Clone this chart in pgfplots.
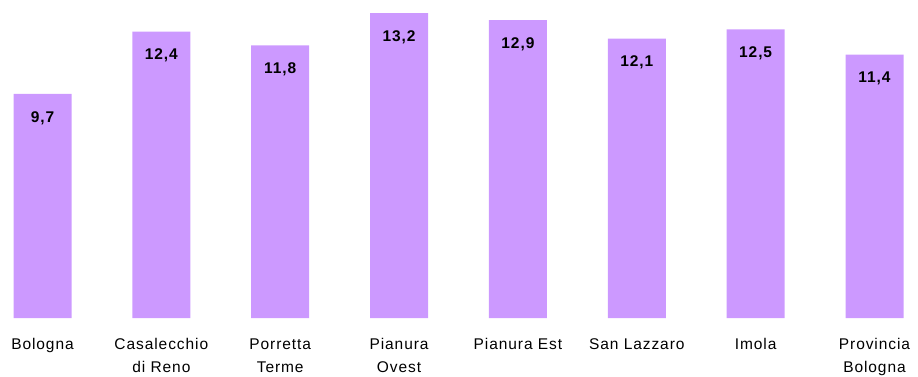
\documentclass[border=0pt]{standalone}
\usepackage{fontspec}
\setmainfont{Liberation Sans}[LetterSpace=6]
\usepackage{pgfplots}
\pgfplotsset{compat=1.18}
\definecolor{lilla}{HTML}{CC99FF}

\begin{document}
\begin{tikzpicture}
\begin{axis}[
    scale only axis,
    width=918pt, height=318pt,
    xmin=-0.3576, xmax=7.366,
    ymin=0, ymax=13.77,
    axis line style={draw=none},
    major tick length=0pt,
    ytick=\empty,
    xtick=data,
    xticklabels={Bologna, Casalecchio\\di Reno, Porretta\\Terme, Pianura\\Ovest, Pianura Est, San Lazzaro, Imola, Provincia\\Bologna},
    xticklabel style={font=\fontsize{15.5}{23}\selectfont, align=center, anchor=north, yshift=-17pt},
    ybar, bar width=58pt,
    nodes near coords,
    nodes near coords style={font=\fontsize{15.5}{17}\selectfont\bfseries, anchor=center, yshift=-24pt},
    /pgf/number format/.cd, use comma, fixed, precision=1, fixed zerofill, assume math mode=true,
]
\addplot[fill=lilla, draw=none] coordinates {
    (0,9.7) (1,12.4) (2,11.8) (3,13.2) (4,12.9) (5,12.1) (6,12.5) (7,11.4)
};
\end{axis}
\pgfresetboundingbox
\path (0pt,-58pt) rectangle (918pt,318pt);
\end{tikzpicture}
\end{document}
